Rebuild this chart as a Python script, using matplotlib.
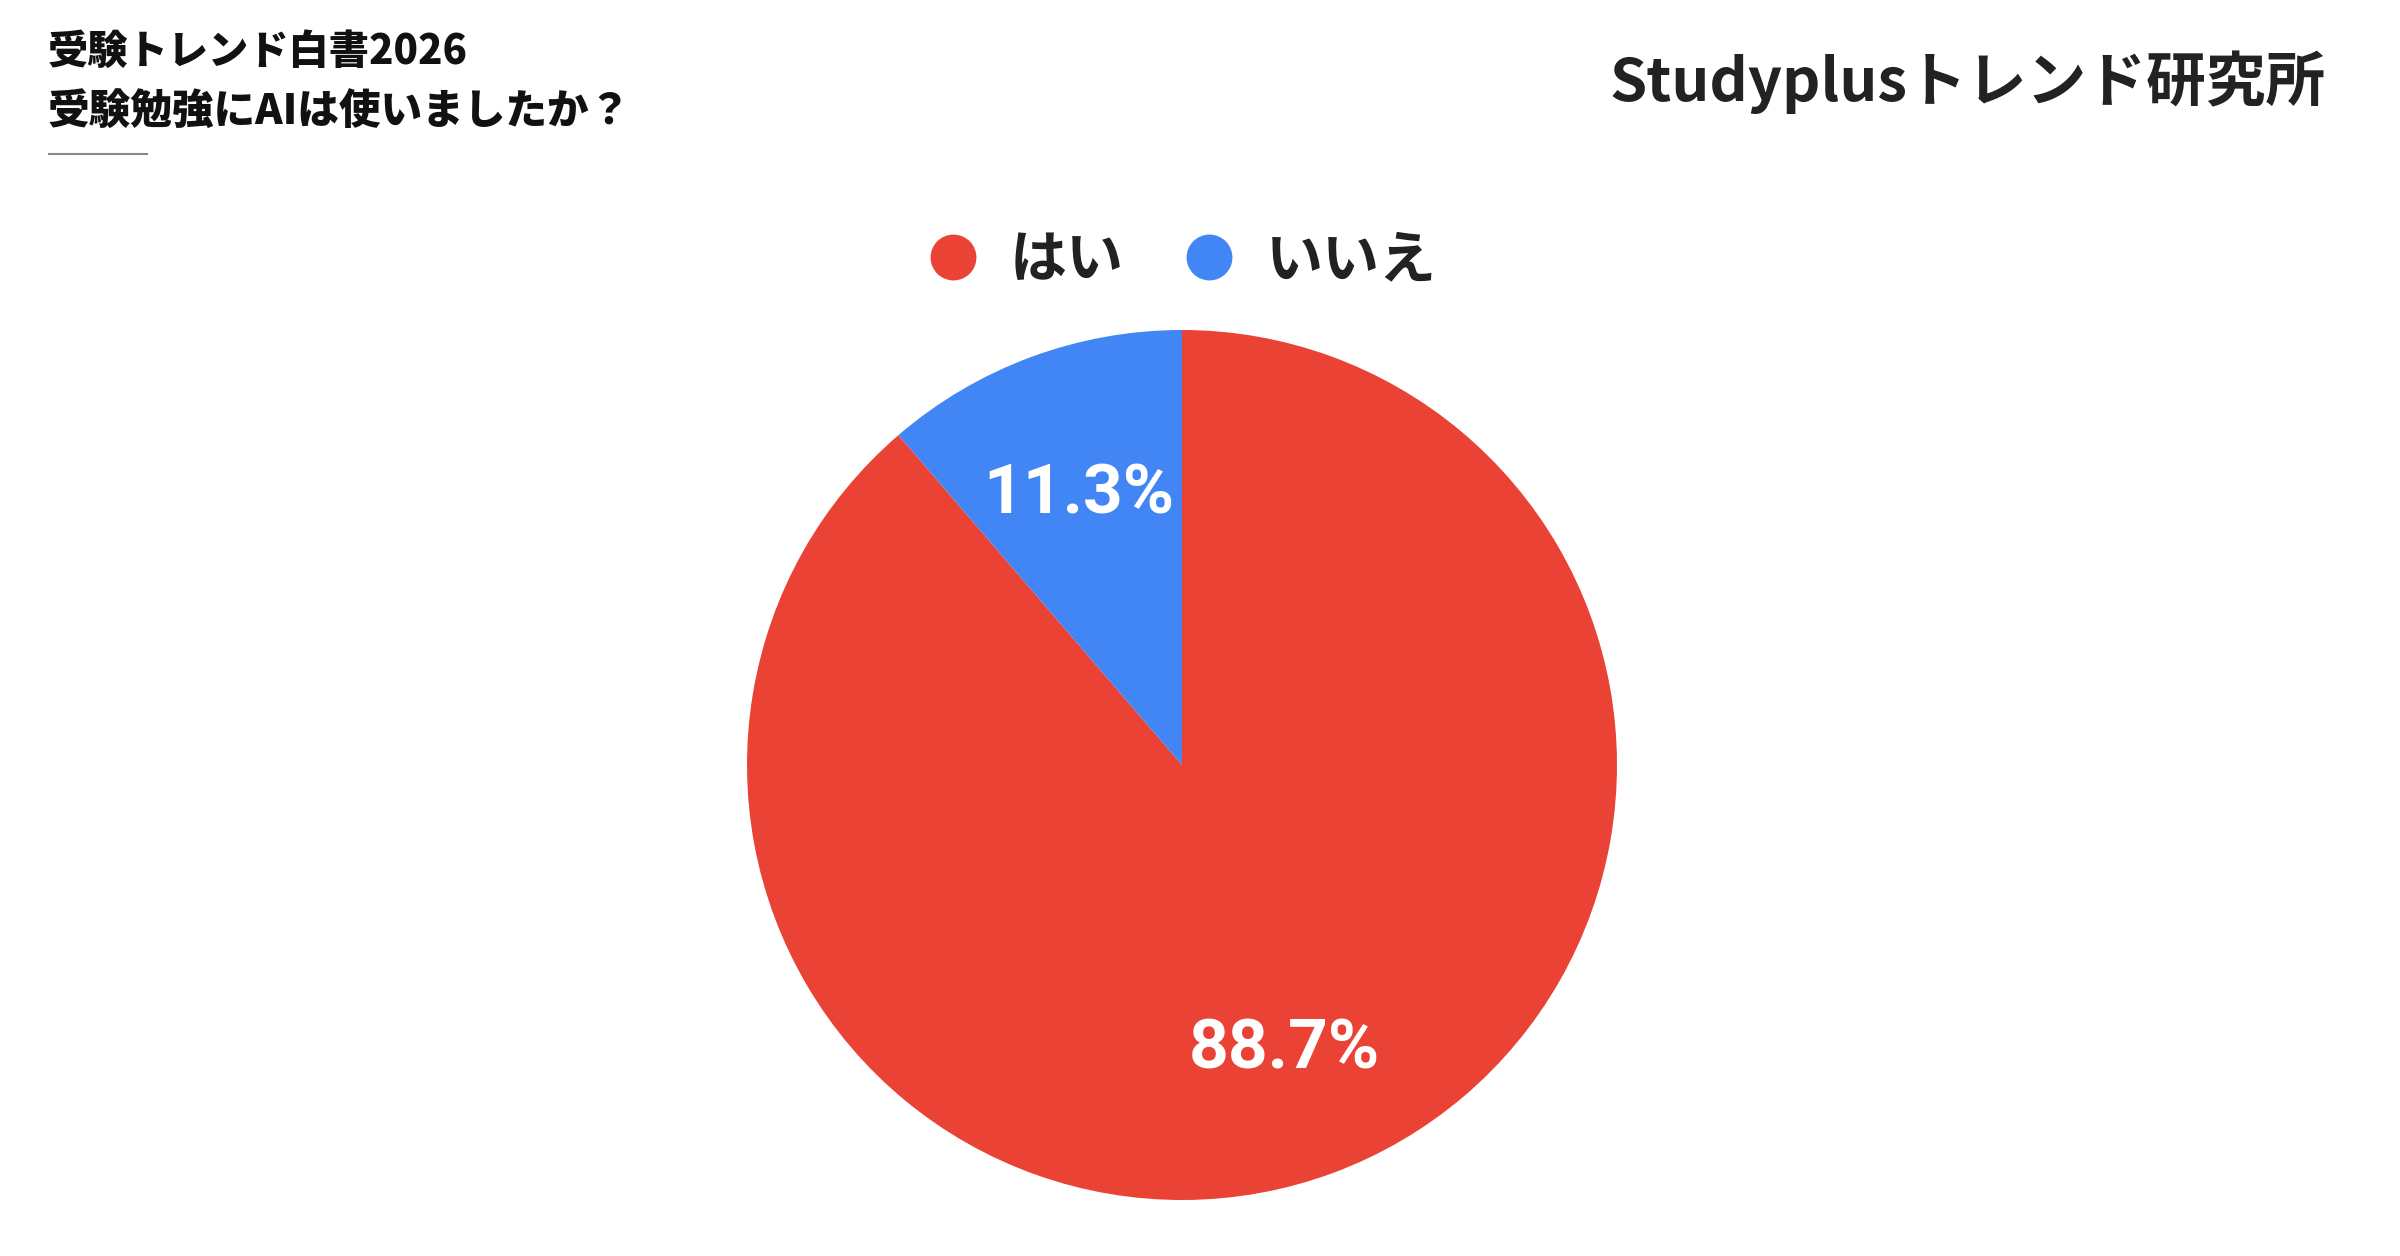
import matplotlib
matplotlib.use("Agg")
import matplotlib.pyplot as plt
from matplotlib.lines import Line2D

categories = ["はい", "いいえ"]
values = [88.7, 11.3]
colors = ["#EA4335", "#4285F4"]
title_lines = ["受験トレンド白書2026", "受験勉強にAIは使いましたか？"]
brand = "Studyplusトレンド研究所"

plt.rcParams['font.family'] = ['Noto Sans CJK JP', 'DejaVu Sans']

W, H = 2400, 1256
fig = plt.figure(figsize=(W / 100, H / 100), dpi=100)
fig.patch.set_facecolor("white")

# pie axes: center (1182, 765), radius 435 px
cx, cy, r = 1182, 765, 435
ax = fig.add_axes([(cx - r) / W, (H - cy - r) / H, 2 * r / W, 2 * r / H])
wedges, texts, autotexts = ax.pie(
    values, colors=colors, startangle=90, counterclock=False,
    autopct=lambda p: f"{p:.1f}%", pctdistance=0.68,
    wedgeprops=dict(linewidth=0),
    textprops=dict(color="white", fontsize=50, fontweight="bold",
                   family=["Roboto", "DejaVu Sans"]))
for t in autotexts:
    x, y = t.get_position()
    t.set_position((x, y - 0.018))
ax.set_xlim(-1, 1)
ax.set_ylim(-1, 1)
ax.axis("off")

# legend
handles = [Line2D([0], [0], marker="o", linestyle="none", markersize=32,
                  markerfacecolor=c, markeredgecolor=c) for c in colors]
leg = fig.legend(handles, categories, loc="center", bbox_to_anchor=(1181 / W, 1 - 260 / H),
                 ncol=2, frameon=False, handlelength=1.0, handletextpad=0.5,
                 columnspacing=1.0, prop=dict(family=["Noto Sans CJK JP"], size=41, weight="bold"))
for t in leg.get_texts():
    t.set_color("#222222")

# titles
fig.text(48 / W, 1 - 52 / H, title_lines[0], fontsize=29, fontweight="black",
         color="#111111", va="center", ha="left")
fig.text(48 / W, 1 - 113 / H, title_lines[1], fontsize=30, fontweight="black",
         color="#111111", va="center", ha="left")
fig.add_artist(Line2D([49 / W, 147 / W], [1 - 154 / H, 1 - 154 / H],
                      color="#888888", linewidth=1.5, transform=fig.transFigure))

# brand
fig.text(2326 / W, 1 - 82 / H, brand, fontsize=43, fontweight="bold",
         color="#222222", va="center", ha="right")

fig.savefig("out.png", dpi=100, facecolor="white")
